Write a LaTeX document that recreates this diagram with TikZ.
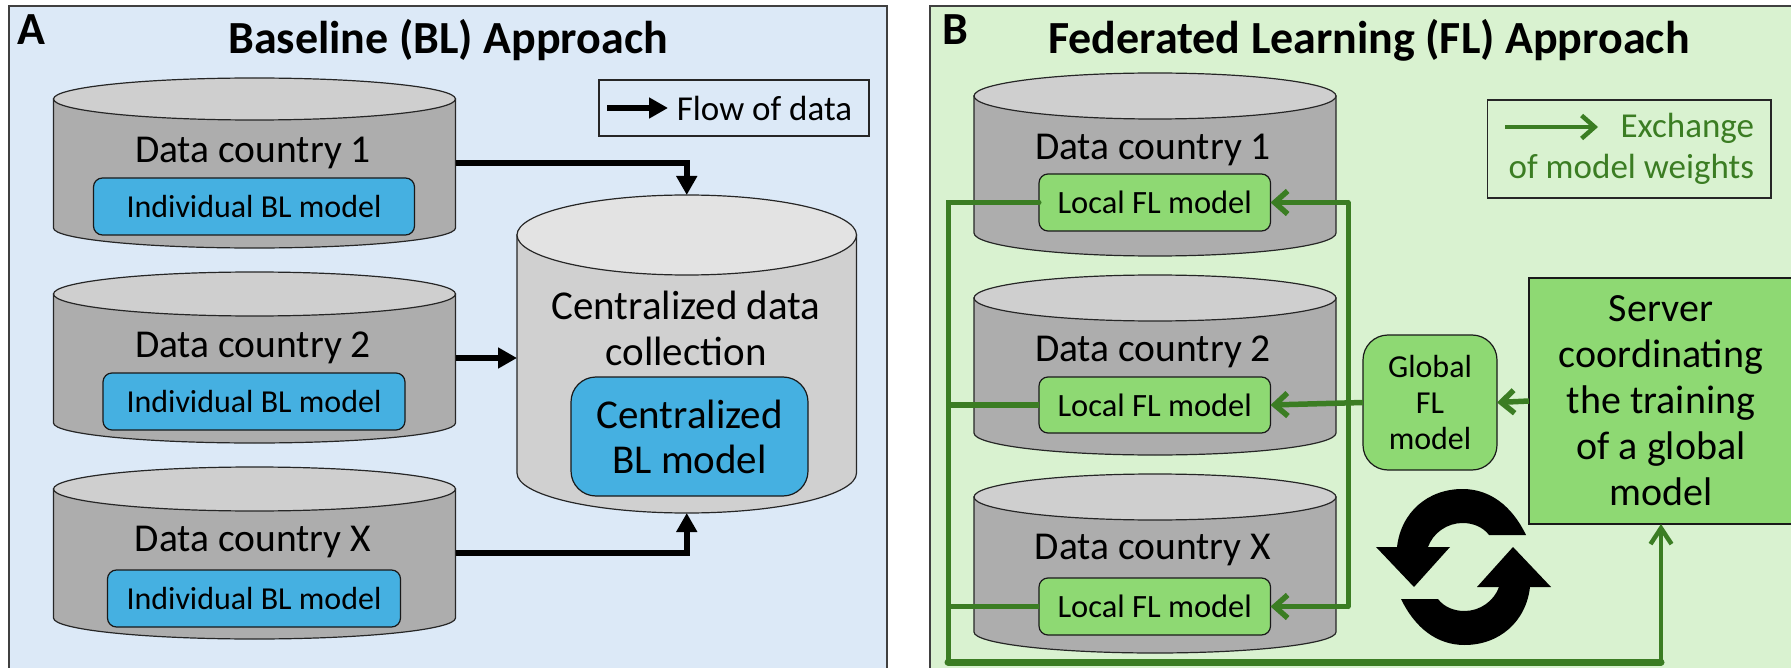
\documentclass[tikz,border=0pt]{standalone}
\usepackage{fontspec}
\setmainfont{Carlito}
\usetikzlibrary{arrows.meta,calc}
\definecolor{panelA}{HTML}{DCE9F7}
\definecolor{panelB}{HTML}{D9F2D0}
\definecolor{cylside}{HTML}{ADADAD}
\definecolor{cyltop}{HTML}{CFCFCF}
\definecolor{censide}{HTML}{D0D0D0}
\definecolor{centop}{HTML}{E3E3E3}
\definecolor{blBlue}{HTML}{45B0E1}
\definecolor{flGreen}{HTML}{8ED973}
\definecolor{lineGreen}{HTML}{3B7D23}
\newcommand\fz[2]{\fontsize{#1}{#2}\selectfont}
% name x0 x1 top sidetop sidebottom bottom sidefill topfill
\newcommand\cyl[9]{%
  \pgfmathsetmacro\cxm{(#2+#3)/2}\pgfmathsetmacro\crx{(#3-#2)/2}%
  \pgfmathsetmacro\cry{#5-#4}\pgfmathsetmacro\crb{#7-#6}%
  \draw[cyledge,fill=#8] (#2,#5) -- (#2,#6) arc[start angle=180,end angle=360,x radius=\crx,y radius=-\crb] -- (#3,#5) -- cycle;
  \draw[cyledge,fill=#9] (\cxm,#5) ellipse[x radius=\crx,y radius=\cry];
  \pgfmathsetmacro\chh{#7-#4}\pgfmathsetmacro\cww{#3-#2}\pgfmathsetmacro\cym{(#4+#7)/2}%
  \node[minimum width=\cww pt,minimum height=\chh pt,inner sep=0pt,outer sep=0pt] (#1) at (\cxm,\cym) {};
}
% name x0 y0 x1 y1 style text
\newcommand\bx[7]{%
  \pgfmathsetmacro\bxm{(#2+#4)/2}\pgfmathsetmacro\bym{(#3+#5)/2}%
  \pgfmathsetmacro\bww{#4-#2}\pgfmathsetmacro\bhh{#5-#3}%
  \node[#6,minimum width=\bww pt,minimum height=\bhh pt,inner sep=0pt,outer sep=0pt] (#1) at (\bxm,\bym) {#7};
}
\tikzset{
  cyledge/.style={draw=black!85,line width=1.2pt},
  panel/.style={draw=black!75,line width=1.3pt},
  legendbox/.style={draw=black!85,line width=1.2pt,fill=none,align=center},
  ind/.style={draw=black!90,line width=1.2pt,fill=blBlue,rounded corners=9pt},
  loc/.style={draw=black!90,line width=1.2pt,fill=flGreen,rounded corners=9pt},
  lab/.style={inner sep=0pt,outer sep=0pt,text=black},
  flow/.style={line width=6.5pt,draw=black,-{Triangle[length=19pt,width=20pt]}},
  gline/.style={draw=lineGreen,line width=5pt},
  garrow/.style={draw=lineGreen,line width=5.5pt,-{Straight Barb[length=13pt,width=23pt]}},
  heading/.style={lab,font=\fz{46}{54}\bfseries},
  body/.style={lab,font=\fz{39.5}{46}},
  small/.style={font=\fz{32}{38},text=black},
  smallg/.style={font=\fz{32.5}{38},text=black},
}
\begin{document}
\begin{tikzpicture}[x=1pt,y=-1pt]
\useasboundingbox (0,0) rectangle (1791,668);
\fill[white] (0,0) rectangle (1791,668);
% panels
\bx{pa}{9}{6}{887}{690}{panel,fill=panelA}{}
\bx{pb}{930}{6}{1810}{690}{panel,fill=panelB}{}
\node[heading] (ta) at (448,40) {Baseline (BL) Approach};
\node[heading] (tb) at (1369,40) {Federated Learning (FL) Approach};
\node[heading] (la) at (31,30) {A};
\node[heading] (lb) at (955,30) {B};
% cylinders A
\cyl{a1}{53.5}{455.5}{78}{99}{228}{248}{cylside}{cyltop}
\cyl{a2}{53.5}{455.5}{272}{294}{423}{443}{cylside}{cyltop}
\cyl{a3}{53.5}{455.5}{467}{489}{618}{639}{cylside}{cyltop}
\cyl{cen}{517}{856.5}{195}{235}{473}{513}{censide}{centop}
\node[body] (a1t) at (253,153) {Data country 1};
\node[body] (a2t) at (253,348) {Data country 2};
\node[body] (a3t) at (253,542) {Data country X};
\bx{a1m}{93.5}{178}{414.5}{235}{ind,small}{Individual BL model}
\bx{a2m}{103}{373}{405}{430}{ind,small}{Individual BL model}
\bx{a3m}{107.5}{570}{400.5}{627}{ind,small}{Individual BL model}
\node[body,align=center,font=\fz{41}{46}] (cent) at (686,328) {Centralized data\\collection};
\bx{cenm}{571}{377}{808}{496}{ind,rounded corners=25pt,align=center,font=\fz{41}{45}}{Centralized\\BL model}
% legend A
\bx{lega}{599}{80}{869}{136}{legendbox}{}
\coordinate (lega1) at (607,108);
\coordinate (lega2) at (668,108);
\node[lab,font=\fz{35}{40}] (legat) at (764.5,108) {Flow of data};
\draw[line width=6.5pt,-{Triangle[length=19pt,width=20pt]}] (lega1) -- (lega2);
% flows A
\coordinate (a1o) at (455.5,163);
\coordinate (a2o) at (455.5,358);
\coordinate (a3o) at (455.5,553);
\coordinate (cenw) at (517,358);
\draw[flow] (a1o) -| (cen.north);
\draw[flow] (a2o) -- (cenw);
\draw[flow] (a3o) -| (cen.south);
% cylinders B
\cyl{b1}{974}{1336}{73}{96}{233}{256}{cylside}{cyltop}
\cyl{b2}{974}{1336}{275}{298}{433}{455}{cylside}{cyltop}
\cyl{b3}{974}{1336}{474}{497}{632}{653}{cylside}{cyltop}
\node[body] (b1t) at (1153,150) {Data country 1};
\node[body] (b2t) at (1153,352) {Data country 2};
\node[body] (b3t) at (1153,550) {Data country X};
\bx{b1m}{1039}{174}{1270.5}{231}{loc,smallg}{Local FL model}
\bx{b2m}{1039}{377}{1270.5}{433}{loc,smallg}{Local FL model}
\bx{b3m}{1039}{578}{1270.5}{635}{loc,smallg}{Local FL model}
\bx{glob}{1363}{335}{1497}{470}{loc,rounded corners=25pt,align=center,font=\fz{32}{36}}{Global\\FL\\model}
\bx{srv}{1529}{278}{1793}{524}{draw=black!90,line width=1.2pt,fill=flGreen,align=center,font=\fz{40}{46}}{Server\\coordinating\\the training\\of a global\\model}
% legend B
\bx{legb}{1487.5}{100}{1771}{198}{legendbox}{}
\coordinate (legb1) at (1505,127);
\coordinate (legb2) at (1598,127);
\draw[garrow,line width=4.5pt] (legb1) -- (legb2);
\node[lab,anchor=east,text=lineGreen,font=\fz{35}{40}] (legbt1) at (1754,128) {Exchange};
\node[lab,anchor=east,text=lineGreen,font=\fz{35}{40}] (legbt2) at (1754,169) {of model weights};
% green connectors
\coordinate (ltop) at (948,202.5);
\coordinate (lbot) at (948,662);
\coordinate (rtop) at (1348,202.5);
\coordinate (rbot) at (1348,606.5);
\draw[gline,line cap=round] (b1m.west) -- (ltop) -- (lbot);
\draw[gline,line width=5.5pt] (b2m.west) -- (b2m.west -| ltop);
\draw[gline,line width=5.5pt] (b3m.west) -- (b3m.west -| ltop);
\draw[gline,line width=7pt,line cap=round] (lbot) -- (lbot -| srv.south);
\draw[garrow,line width=4.5pt,-{Straight Barb[length=16pt,width=21pt]}] (lbot -| srv.south) -- (srv.south);
\draw[gline,line cap=round] (rbot) -- (rtop);
\draw[garrow] (rtop) -- (b1m.east);
\draw[garrow] (rbot) -- (b3m.east);
\draw[garrow] (glob.west) -- (b2m.east);
\draw[garrow] (srv.west) -- (glob.east);
% cycle symbol
\def\cyclearrow{(1526,535) .. controls (1512,506) and (1490,489) .. (1462.5,489) .. controls (1428,489) and (1401,512) .. (1397,547) -- (1376,547) -- (1414,587) -- (1450,547) -- (1428,547) .. controls (1433,533) and (1447,523) .. (1462.5,523) .. controls (1473,523) and (1483,527) .. (1489,535) -- cycle}
\fill[black] \cyclearrow;
\fill[black,rotate around={180:(1463.5,567)}] \cyclearrow;
\end{tikzpicture}
\end{document}
